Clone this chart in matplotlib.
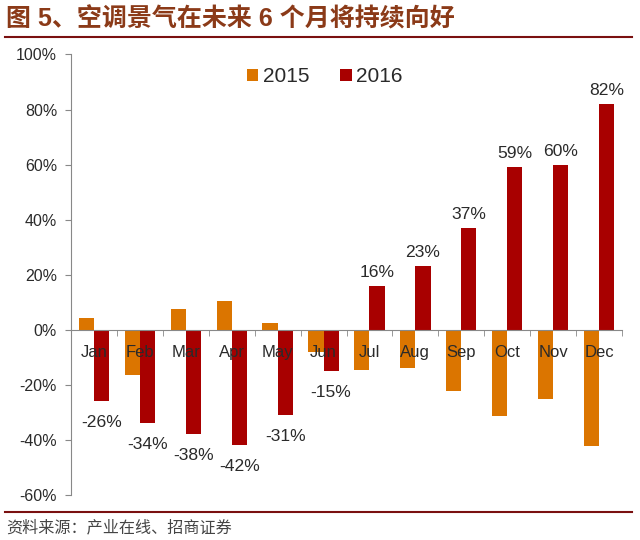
import numpy as np
import matplotlib
matplotlib.use("Agg")
from matplotlib import pyplot as plt
from matplotlib.lines import Line2D

plt.rcParams['font.family'] = ['Liberation Sans', 'Noto Sans CJK SC', 'DejaVu Sans']

months = ["Jan", "Feb", "Mar", "Apr", "May", "Jun", "Jul", "Aug", "Sep", "Oct", "Nov", "Dec"]
v_2015 = [4.4, -16.4, 7.4, 10.5, 2.6, -8, -14.6, -13.8, -22.3, -31.3, -25, -42.2]
v_2016 = [-26, -34, -38, -42, -31, -15, 16, 23, 37, 59, 60, 82]

c15 = "#DB7500"
c16 = "#A80000"
txt = "#2A2A2A"

fig = plt.figure(figsize=(6.4, 5.4), dpi=100)
ax = fig.add_axes([71/640, 1-495/540, 551/640, 440.5/540])

x = np.arange(len(months))
w = 0.33
ax.bar(x - w/2, v_2015, width=w, color=c15, label="2015", zorder=1)
ax.bar(x + w/2, v_2016, width=w, color=c16, label="2016", zorder=1)

# 2016 数据标签
for i, v in enumerate(v_2016):
    if v >= 0:
        ax.text(x[i] + w/2, v + 2.2, f"{v}%", ha="center", va="bottom", fontsize=12.6, color=txt)
    else:
        ax.text(x[i] + w/2, v - 5, f"{v}%", ha="center", va="top", fontsize=12.6, color=txt)

ax.set_xlim(-0.5, 11.5)
ax.set_ylim(-60, 100)
ax.set_yticks(range(-60, 101, 20))
ax.set_yticklabels([f"{t}%" for t in range(-60, 101, 20)], fontsize=11.5, color=txt)

ax.spines['top'].set_visible(False)
ax.spines['right'].set_visible(False)
ax.spines['left'].set_color("#888888")
ax.spines['bottom'].set_position(('data', 0))
ax.spines['bottom'].set_color("#888888")
ax.tick_params(axis='y', length=4, color="#888888", pad=6)

ax.set_xticks(x)
ax.set_xticklabels(months, fontsize=12, color=txt)
ax.tick_params(axis='x', which='major', length=0, pad=11)
ax.set_xticks(np.arange(0.5, 12, 1), minor=True)
ax.tick_params(axis='x', which='minor', length=4, color="#888888", direction='out')
for lab in ax.get_xticklabels():
    lab.set_zorder(5)

leg = ax.legend(loc="center left", bbox_to_anchor=(247/640, 1-77/540), bbox_transform=fig.transFigure,
                ncol=2, frameon=False, fontsize=15, handlelength=0.55, handleheight=0.55,
                columnspacing=1.5, handletextpad=0.2, borderpad=0, borderaxespad=0)
for t in leg.get_texts():
    t.set_color(txt)

# 标题和分隔线
fig.text(6/640, 1-19/540, "图 5、空调景气在未来 6 个月将持续向好", fontsize=18, fontweight="bold",
         color="#8B3A18", va="center", ha="left")
fig.add_artist(Line2D([5/640, 632/640], [1-37/540, 1-37/540], color="#7A1010", lw=1.5))
fig.add_artist(Line2D([5/640, 632/640], [1-512/540, 1-512/540], color="#7A1010", lw=1.5))
fig.text(6/640, 1-527/540, "资料来源：产业在线、招商证券", fontsize=11.6, color="#444444", va="center", ha="left")

plt.savefig("out.png", dpi=100)
